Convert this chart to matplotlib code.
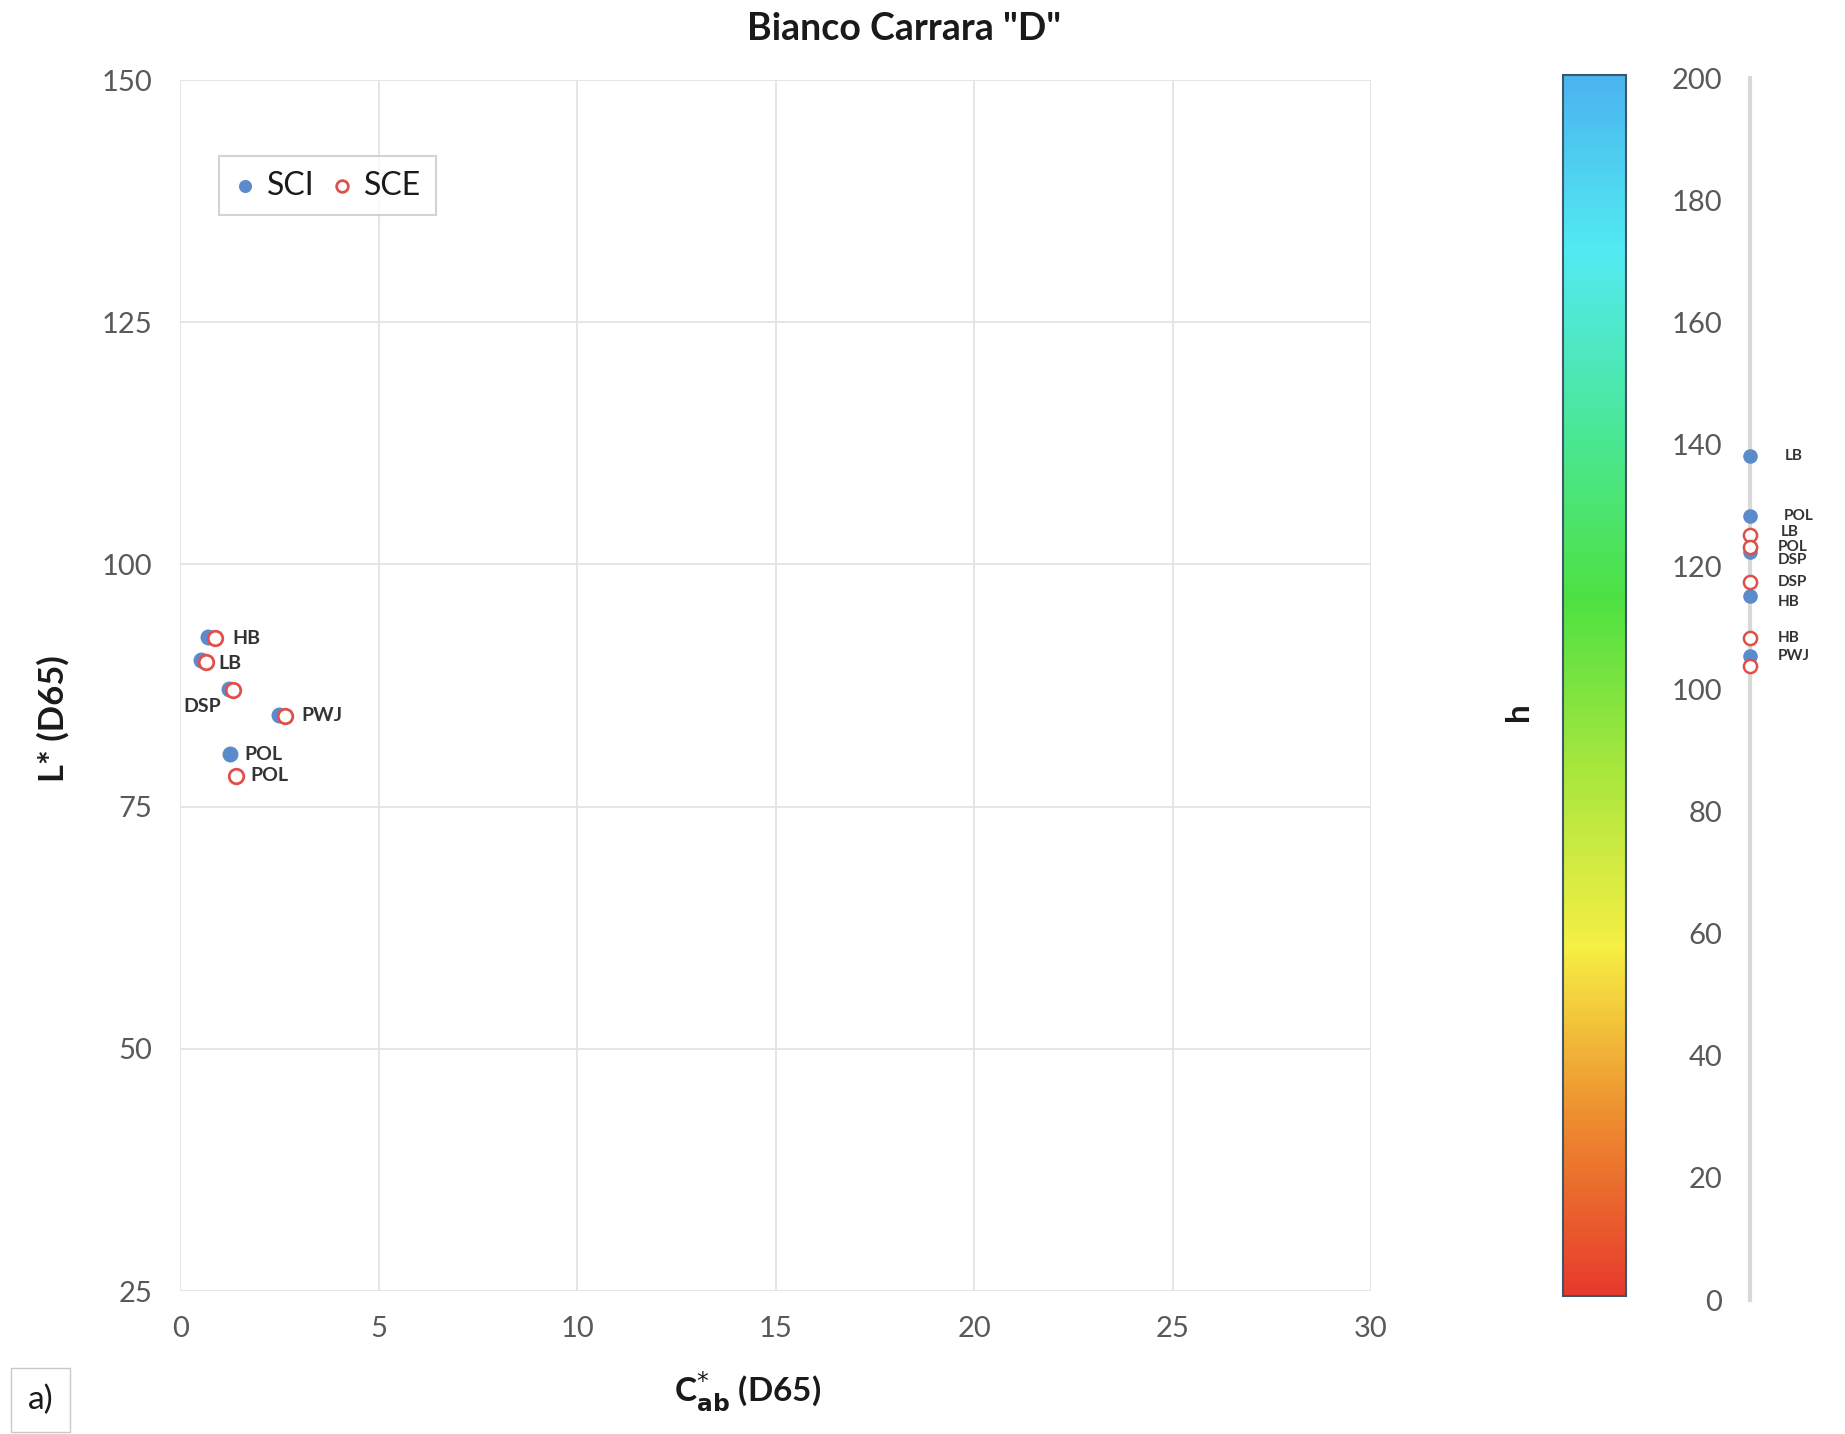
import matplotlib

matplotlib.use("Agg")
import matplotlib.pyplot as plt
from matplotlib.colors import LinearSegmentedColormap, Normalize
from matplotlib.cm import ScalarMappable

plt.rcParams["font.family"] = ["Lato", "DejaVu Sans"]

# treatments, CIE L*C*h values
treatments = ["HB", "LB", "DSP", "PWJ", "POL"]
sci_c = [0.71, 0.53, 1.22, 2.49, 1.27]
sci_l = [92.5, 90.1, 87.1, 84.5, 80.4]
sci_h = [115.2, 138.2, 122.5, 105.4, 128.3]
sce_c = [0.89, 0.65, 1.33, 2.64, 1.42]
sce_l = [92.4, 89.9, 87.0, 84.4, 78.2]
sce_h = [108.3, 125.2, 117.5, 103.7, 123.3]

x_ticks = [0, 5, 10, 15, 20, 25, 30]
y_ticks = [25, 50, 75, 100, 125, 150]
h_ticks = [0, 20, 40, 60, 80, 100, 120, 140, 160, 180, 200]

SCI_COLOR = "#5b8bcb"
SCE_COLOR = "#e0504a"
TICK_COLOR = "#595959"
GRID_COLOR = "#e3e3e3"
TEXT_COLOR = "#1a1a1a"

hue_colors = ["#e63a2c", "#ee8b2e", "#f6ef44", "#a9e63d", "#4ee142",
              "#4ae79a", "#52eaf2", "#4ab4ef"]

fig = plt.figure(figsize=(18.45, 14.34), dpi=100)

# main scatter
ax = fig.add_axes([0.0976, 0.0997, 0.6455, 0.8445])
ax.scatter(sci_c, sci_l, s=110, color=SCI_COLOR, label="SCI", zorder=3)
ax.scatter(sce_c, sce_l, s=110, facecolor="white", edgecolor=SCE_COLOR,
           linewidth=2, label="SCE", zorder=4)
ax.set_xlim(0, 30)
ax.set_ylim(25, 150)
ax.set_xticks(x_ticks)
ax.set_yticks(y_ticks)
ax.grid(color=GRID_COLOR, linewidth=1.3)
ax.set_axisbelow(True)
for s in ax.spines.values():
    s.set_visible(False)
ax.tick_params(length=0, labelsize=21, labelcolor=TICK_COLOR)
ax.tick_params(axis="y", pad=20)
ax.tick_params(axis="x", pad=18)

label_style = dict(fontsize=14, fontweight="bold", color="#333333",
                   textcoords="offset points", va="center")
ax.annotate("HB", (sce_c[0], sce_l[0]), xytext=(12, 0), **label_style)
ax.annotate("LB", (sce_c[1], sce_l[1]), xytext=(9, -1), **label_style)
ax.annotate("DSP", (sci_c[2], sci_l[2]), xytext=(-5, -12), ha="right", **label_style)
ax.annotate("PWJ", (sce_c[3], sce_l[3]), xytext=(12, 0), **label_style)
ax.annotate("POL", (sci_c[4], sci_l[4]), xytext=(10, 0), **label_style)
ax.annotate("POL", (sce_c[4], sce_l[4]), xytext=(10, 0), **label_style)

leg = ax.legend(loc="upper left", bbox_to_anchor=(0.0327, 0.937), borderaxespad=0,
                ncol=2, fontsize=23, frameon=True, fancybox=False,
                handlelength=0.7, handletextpad=0.35, columnspacing=0.5,
                markerscale=0.8, borderpad=0.45)
leg.get_frame().set_edgecolor("#c8c8c8")
leg.get_frame().set_linewidth(1.5)
for t in leg.get_texts():
    t.set_color(TEXT_COLOR)

# hue colour bar
cmap = LinearSegmentedColormap.from_list("hue", hue_colors)
cax = fig.add_axes([0.8472, 0.0962, 0.0341, 0.8515])
cb = fig.colorbar(ScalarMappable(Normalize(0, 200), cmap), cax=cax)
cb.set_ticks([])
cb.outline.set_edgecolor("#3f5568")
cb.outline.set_linewidth(1.5)

# hue strip
hax = fig.add_axes([0.9485, 0.0934, 0.04, 0.8522])
hax.scatter([0] * len(sci_h), sci_h, s=90, color=SCI_COLOR, zorder=3, clip_on=False)
hax.scatter([0] * len(sce_h), sce_h, s=90, facecolor="white", edgecolor=SCE_COLOR,
            linewidth=1.8, zorder=4, clip_on=False)
hax.set_xlim(0, 1)
hax.set_ylim(0, 200)
hax.set_yticks(h_ticks)
hax.set_xticks([])
for name, s in hax.spines.items():
    s.set_visible(name == "left")
hax.spines["left"].set_color("#d9d9d9")
hax.spines["left"].set_linewidth(3)
hax.tick_params(length=0, labelsize=21, labelcolor=TICK_COLOR, pad=20)
hax.patch.set_alpha(0)

strip_style = dict(fontsize=11, fontweight="bold", color="#333333",
                   textcoords="offset points", va="center", annotation_clip=False)
# label nudges (points) as placed on the original chart
sci_nudge = {"HB": (20, -4), "LB": (25, 0), "DSP": (20, -6), "PWJ": (20, 0), "POL": (24, 0)}
sce_nudge = {"HB": (20, 0), "LB": (22, 2), "DSP": (20, 0), "POL": (20, 0)}
for i, name in enumerate(treatments):
    hax.annotate(name, (0, sci_h[i]), xytext=sci_nudge[name], **strip_style)
    if name in sce_nudge:
        hax.annotate(name, (0, sce_h[i]), xytext=sce_nudge[name], **strip_style)

# texts
fig.text(0.49, 0.980, 'Bianco Carrara "D"', ha="center", va="center",
         fontsize=27, fontweight="bold", color=TEXT_COLOR)
fig.text(0.029, 0.499, "L* (D65)", ha="center", va="center", rotation=90,
         fontsize=25, fontweight="bold", color=TEXT_COLOR)
fig.text(0.405, 0.0293, r"C$^{*}_{\mathbf{ab}}$ (D65)", ha="center", va="center",
         fontsize=24, fontweight="bold", color=TEXT_COLOR)
fig.text(0.8228, 0.5035, "h", ha="center", va="center", rotation=90,
         fontsize=24, fontweight="bold", color=TEXT_COLOR)
fig.text(0.0222, 0.0237, "a)", ha="center", va="center", fontsize=24, color=TEXT_COLOR,
         bbox=dict(boxstyle="square,pad=0.5", facecolor="white", edgecolor="#c8c8c8"))

fig.savefig("out.png", dpi=100)
